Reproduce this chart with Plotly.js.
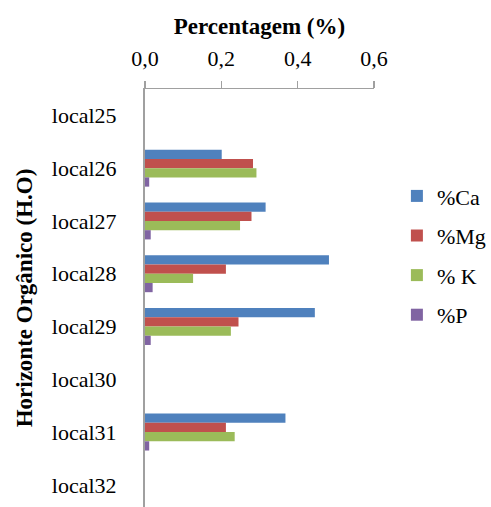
<!DOCTYPE html>
<html>
<head>
<meta charset="utf-8">
<script src="https://cdn.plot.ly/plotly-3.0.1.min.js"></script>
<style>
  html, body { margin: 0; padding: 0; background: #fff; }
  #chart { width: 491px; height: 507px; }
</style>
</head>
<body>
<div id="chart"></div>
<script>
// Sampling sites (top to bottom)
const locais = ['local25', 'local26', 'local27', 'local28', 'local29', 'local30', 'local31', 'local32'];

// Nutrient percentages per site (null = no measurement)
const ca = [null, 0.201, 0.316, 0.482, 0.445, null, 0.368, null];
const mg = [null, 0.283, 0.279, 0.212, 0.245, null, 0.212, null];
const k  = [null, 0.292, 0.249, 0.126, 0.225, null, 0.235, null];
const p  = [null, 0.011, 0.015, 0.020, 0.015, null, 0.011, null];

const xTicks = [0, 0.2, 0.4, 0.6];
const xTickText = ['0,0', '0,2', '0,4', '0,6'];

const serif = '"Liberation Serif", "Times New Roman", serif';

function serie(nome, valores, cor) {
  return {
    type: 'bar',
    orientation: 'h',
    name: nome,
    legendgroup: nome,
    y: locais,
    x: valores,
    marker: { color: cor, line: { width: 0 } },
    hoverinfo: 'x+y+name'
  };
}

const data = [
  serie('%Ca', ca, '#4F81BD'),
  serie('%Mg', mg, '#C0504D'),
  serie('% K', k, '#9BBB59'),
  serie('%P', p, '#8064A2')
];

const layout = {
  width: 491,
  height: 507,
  margin: { l: 145, r: 113, t: 89, b: 0 },
  paper_bgcolor: '#fff',
  plot_bgcolor: '#fff',
  barmode: 'group',
  bargap: 0.30,
  bargroupgap: 0,
  font: { family: serif, size: 22, color: '#000' },
  xaxis: {
    side: 'top',
    range: [0, 0.6],
    tickvals: xTicks,
    ticktext: xTickText,
    ticks: 'outside',
    ticklen: 7,
    tickwidth: 1.5,
    tickcolor: '#a0a0a0',
    showline: true,
    linecolor: '#a0a0a0',
    linewidth: 1.5,
    showgrid: false,
    zeroline: false,
    ticklabelstandoff: 6,
    tickfont: { family: serif, size: 22, color: '#000' },
    title: {
      text: '<b>Percentagem (%)</b>',
      font: { family: serif, size: 23, color: '#000' },
      standoff: 4
    }
  },
  yaxis: {
    type: 'category',
    categoryorder: 'array',
    categoryarray: locais,
    range: [7.42, -0.5],
    showline: true,
    linecolor: '#a0a0a0',
    linewidth: 2,
    ticks: '',
    showgrid: false,
    zeroline: false,
    ticklabelstandoff: 22,
    tickfont: { family: serif, size: 22, color: '#000' },
    title: {
      text: '<b>Horizonte Orgânico (H.O)</b>',
      font: { family: serif, size: 23, color: '#000' },
      standoff: 13
    }
  },
  showlegend: true,
  legend: {
    x: 1.1,
    xanchor: 'left',
    y: 0.794,
    yanchor: 'top',
    traceorder: 'grouped',
    tracegroupgap: 8,
    font: { family: serif, size: 22, color: '#000' },
    bgcolor: 'rgba(0,0,0,0)',
    borderwidth: 0
  }
};

Plotly.newPlot('chart', data, layout, { displayModeBar: false, staticPlot: true });
</script>
</body>
</html>
